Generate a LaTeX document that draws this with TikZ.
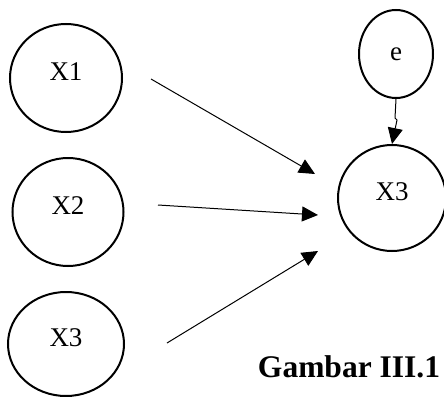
\documentclass[tikz,border=0pt]{standalone}
\usepackage{fontspec}
\setmainfont{Liberation Serif}
\usetikzlibrary{shapes.geometric,arrows.meta}
\newcommand{\uplbl}[1]{\raisebox{-2pt}[0pt][0pt]{#1}}
\begin{document}
\begin{tikzpicture}[x=1pt,y=-1pt,
  var/.style={draw, line width=2pt, ellipse, inner sep=0pt, font=\fontsize{27}{30}\selectfont},
  link/.style={line width=1pt, -{Triangle[length=16pt,width=15pt]}}]
\useasboundingbox (0,0) rectangle (444,396);
\node[var, minimum width=112pt, minimum height=108pt] (X1) at (66,78) {\uplbl{X1}};
\node[var, minimum width=111pt, minimum height=108pt] (X2) at (68,212) {\uplbl{X2}};
\node[var, minimum width=116pt, minimum height=104pt] (X3) at (66,344) {\uplbl{X3}};
\node[var, minimum width=74pt, minimum height=88pt] (E) at (396,54) {e};
\node[var, minimum width=108pt, minimum height=106pt] (Y) at (392,198) {\uplbl{X3}};
\coordinate (s1) at (151,79);
\coordinate (t1) at (315,174);
\coordinate (s2) at (158,205);
\coordinate (t2) at (318,215);
\coordinate (s3) at (167,343);
\coordinate (t3) at (318,251);
\draw[link] (s1) -- (t1);
\draw[link] (s2) -- (t2);
\draw[link] (s3) -- (t3);
\draw[link] (E.south) -- (395,118) -- (397,120) -- (Y.north);
\node[font=\fontsize{31.5}{34}\selectfont\bfseries, anchor=base] (cap) at (349,377) {Gambar III.1};
\end{tikzpicture}
\end{document}
